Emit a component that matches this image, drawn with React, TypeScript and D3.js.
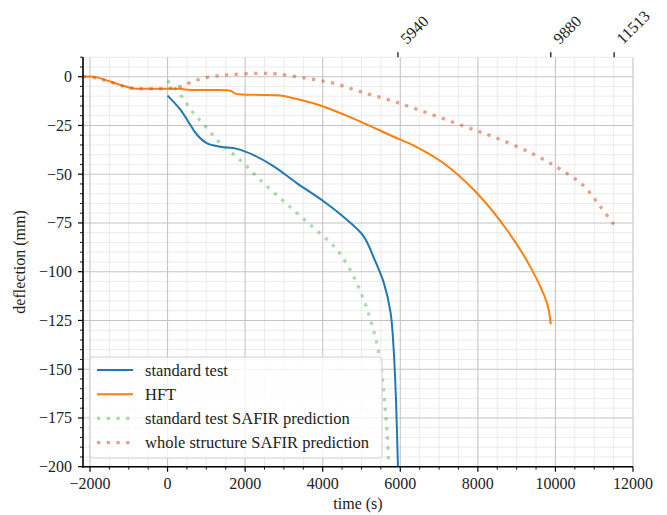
import React from "react";
import * as d3 from "d3";

// ---- data ----
const standardTestT = [0, 335, 590, 765, 1020, 1360, 1790, 2220, 2740, 3340, 4030, 4630, 5060, 5320, 5580, 5750, 5830, 5890, 5940];
const standardTestD = [-9.7, -17, -24.8, -29.9, -34.2, -35.9, -37, -40.2, -46, -54.7, -64, -73.5, -82, -93, -106, -121, -140, -166, -200];

const hftT = [-2180, -1900, -1460, -1120, -870, 300, 600, 1500, 1620, 1760, 1900, 2910, 3260, 4030, 4970, 5830, 6350, 7120, 7980, 8750, 9350, 9780, 9880];
const hftD = [0, 0, -2.6, -4.8, -6, -6.2, -6.8, -6.9, -7.2, -8.8, -9.1, -9.7, -11.1, -15.4, -23, -30.8, -35.3, -44.4, -59.8, -78.6, -97.4, -116, -127];

const safirStdT = [0, 335, 640, 980, 1320, 1670, 2010, 2390, 3000, 3680, 4290, 4680, 5060, 5280, 5450, 5560, 5660, 5700];
const safirStdD = [-2, -9.4, -18, -25.6, -33.3, -39.3, -45.3, -53, -64, -76, -87, -98, -114.5, -128, -142, -159, -183, -200];

const safirWholeT = [-2180, -1900, -1460, -1120, -870, 0, 330, 590, 1020, 1540, 2310, 2820, 3600, 4290, 4970, 5660, 6430, 7630, 8500, 9440, 10130, 10730, 11160, 11513];
const safirWholeD = [0, -0.5, -2.8, -5, -6, -6, -5.1, -2.9, -0.3, 0.9, 1.7, 1.4, -0.9, -3.4, -7.7, -11.6, -16.7, -25.3, -31.6, -39.8, -47.5, -56, -66.7, -76];

const seriesNames = ["standard test", "HFT", "standard test SAFIR prediction", "whole structure SAFIR prediction"];

const xMajorTicks = [-2000, 0, 2000, 4000, 6000, 8000, 10000, 12000];
const yMajorTicks = [0, -25, -50, -75, -100, -125, -150, -175, -200];
const topTicks = [5940, 9880, 11513];

const xLabel = "time (s)";
const yLabel = "deflection (mm)";

// ---- layout ----
const W = 667, H = 515;
const L = 83, R = 633, T = 57.2, B = 466.7;
const FONT = '"Liberation Serif", "DejaVu Serif", "Noto Serif", Tinos, "Nimbus Roman", "Nimbus Roman No9 L", FreeSerif, "Times New Roman", Times, serif';

const fmt = (v: number) => (v < 0 ? "\u2212" + Math.abs(v) : String(v));

export default function App() {
  const x = d3.scaleLinear().domain([-2180, 12000]).range([L, R]);
  const y = d3.scaleLinear().domain([-200, 10]).range([B, T]);

  const xMinor = d3.range(-2000, 12001, 500).filter((v) => v % 2000 !== 0);
  const yMinor = d3.range(-200, 11, 5).filter((v) => v % 25 !== 0);

  const line = d3
    .line<[number, number]>()
    .x((d) => x(d[0]))
    .y((d) => y(d[1]))
    .curve(d3.curveCatmullRom.alpha(0.5));

  const zip = (a: number[], b: number[]) => a.map((v, i) => [v, b[i]] as [number, number]);

  const series = [
    { name: seriesNames[0], data: zip(standardTestT, standardTestD), color: "#1f77b4", dash: null, width: 2, opacity: 1 },
    { name: seriesNames[1], data: zip(hftT, hftD), color: "#ff7f0e", dash: null, width: 2, opacity: 1 },
    { name: seriesNames[2], data: zip(safirStdT, safirStdD), color: "#2ca02c", dash: "3.3 6.4", width: 3.3, opacity: 0.38 },
    { name: seriesNames[3], data: zip(safirWholeT, safirWholeD), color: "#d8542c", dash: "3.3 6.4", width: 3.3, opacity: 0.55 },
  ];

  const legendRows = [370, 394.3, 418.3, 442.7];
  const txt = { fontFamily: FONT };

  return (
    <svg width={W} height={H} style={{ position: "absolute", left: 0, top: 0, background: "#fff", fontFamily: FONT }}>
      <defs>
        <clipPath id="plotclip">
          <rect x={L} y={T} width={R - L} height={B - T} />
        </clipPath>
      </defs>
      {/* minor grid */}
      {xMinor.map((v) => (
        <line key={"xm" + v} x1={x(v)} x2={x(v)} y1={T} y2={B} stroke="#ebebeb" strokeWidth={1} />
      ))}
      {yMinor.map((v) => (
        <line key={"ym" + v} x1={L} x2={R} y1={y(v)} y2={y(v)} stroke="#ebebeb" strokeWidth={1} />
      ))}
      {/* major grid */}
      {xMajorTicks.map((v) => (
        <line key={"xM" + v} x1={x(v)} x2={x(v)} y1={T} y2={B} stroke="#c4c4c4" strokeWidth={1.1} />
      ))}
      {yMajorTicks.map((v) => (
        <line key={"yM" + v} x1={L} x2={R} y1={y(v)} y2={y(v)} stroke="#c4c4c4" strokeWidth={1.1} />
      ))}

      {/* series */}
      <g clipPath="url(#plotclip)">
        {series.map((s) => (
          <path
            key={s.name}
            d={line(s.data) || ""}
            fill="none"
            stroke={s.color}
            strokeWidth={s.width}
            strokeOpacity={s.opacity}
            strokeDasharray={s.dash || undefined}
          />
        ))}
      </g>

      {/* spines */}
      <line x1={L} x2={L} y1={T} y2={B + 0.8} stroke="#000" strokeWidth={1.6} />
      <line x1={L - 0.8} x2={R} y1={B} y2={B} stroke="#000" strokeWidth={1.6} />

      {/* left ticks */}
      {yMajorTicks.map((v) => (
        <g key={"yt" + v}>
          <line x1={L - 5} x2={L} y1={y(v)} y2={y(v)} stroke="#000" strokeWidth={1.2} />
          <text x={72} y={y(v) + 5.5} textAnchor="end" fontSize={16} fill="#222" style={txt}>
            {fmt(v)}
          </text>
        </g>
      ))}
      {yMinor.map((v) => (
        <line key={"ytm" + v} x1={L - 3} x2={L} y1={y(v)} y2={y(v)} stroke="#000" strokeWidth={0.9} />
      ))}

      {/* bottom ticks */}
      {xMajorTicks.map((v) => (
        <g key={"xt" + v}>
          <line x1={x(v)} x2={x(v)} y1={B} y2={B + 5} stroke="#000" strokeWidth={1.2} />
          <text x={x(v)} y={489} textAnchor="middle" fontSize={16} fill="#222" style={txt}>
            {fmt(v)}
          </text>
        </g>
      ))}
      {xMinor.map((v) => (
        <line key={"xtm" + v} x1={x(v)} x2={x(v)} y1={B} y2={B + 3} stroke="#000" strokeWidth={0.9} />
      ))}

      {/* top ticks */}
      {topTicks.map((v) => (
        <g key={"tt" + v}>
          <line x1={x(v)} x2={x(v)} y1={T - 5} y2={T} stroke="#000" strokeWidth={1.2} />
          <text
            x={x(v) + 9}
            y={45}
            textAnchor="start"
            fontSize={16}
            fill="#222"
            style={txt}
            transform={`rotate(-45, ${x(v) + 9}, 45)`}
          >
            {v}
          </text>
        </g>
      ))}

      {/* axis labels */}
      <text x={(L + R) / 2} y={509} textAnchor="middle" fontSize={16} fill="#222" style={txt}>
        {xLabel}
      </text>
      <text
        x={0}
        y={0}
        textAnchor="middle"
        fontSize={16}
        fill="#222"
        style={txt}
        transform={`translate(25, ${(T + B) / 2}) rotate(-90)`}
      >
        {yLabel}
      </text>

      {/* legend */}
      <rect x={90} y={357} width={292} height={101} rx={3} fill="#fff" fillOpacity={0.8} stroke="#d0d0d0" strokeWidth={1} />
      {series.map((s, i) => (
        <g key={"lg" + s.name}>
          <line
            x1={97}
            x2={133}
            y1={legendRows[i]}
            y2={legendRows[i]}
            stroke={s.color}
            strokeWidth={s.width}
            strokeOpacity={s.opacity}
            strokeDasharray={s.dash || undefined}
          />
          <text x={145} y={legendRows[i] + 5.5} fontSize={16.5} fill="#222" style={txt}>
            {s.name}
          </text>
        </g>
      ))}
    </svg>
  );
}
